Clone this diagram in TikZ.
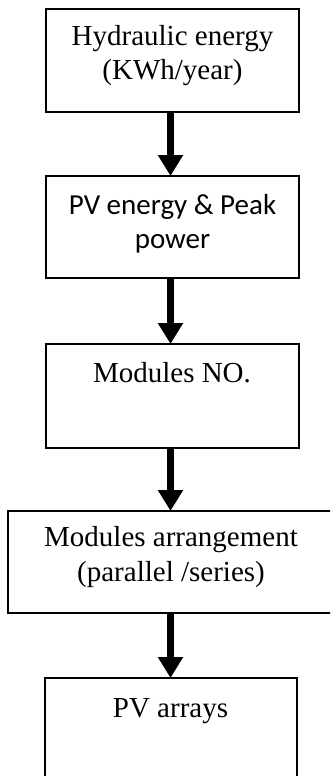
\documentclass[tikz,border=0pt]{standalone}
\usepackage{fontspec}
\setmainfont{Liberation Serif}
\newfontfamily\calib{Carlito}
\usetikzlibrary{arrows.meta}
\begin{document}
\begin{tikzpicture}[x=1pt,y=-1pt,
 box/.style={draw, line width=1.6pt, rectangle, inner sep=0pt, outer sep=0pt, anchor=north west},
 txt/.style={font=\fontsize{29}{35}\selectfont, align=center, inner sep=0pt, anchor=base},
 flow/.style={line width=7pt, -{Triangle[width=24pt,length=21pt]}}]
\useasboundingbox (0,0) rectangle (330,776);
\clip (0,0) rectangle (330,776);
\fill[white] (0,0) rectangle (330,776);
\node[box, minimum width=253pt, minimum height=103pt] (b1) at (46,9) {};
\node[box, minimum width=253pt, minimum height=102pt] (b2) at (46,176) {};
\node[box, minimum width=253pt, minimum height=104pt] (b3) at (46,344) {};
\node[box, minimum width=329pt, minimum height=102pt] (b4) at (8,511) {};
\node[box, minimum width=252pt, minimum height=120pt] (b5) at (45,678) {};
% base anchor of a multi-line node = baseline of its last line
\node[txt] (t1) at (172.5,80) {Hydraulic energy\\(KWh/year)};
\node[txt, font=\calib\fontsize{29}{34}\selectfont] (t2) at (172.5,248) {PV energy \& Peak\\power};
\node[txt] (t3) at (172,382) {Modules NO.};
\node[txt] (t4) at (171,581) {Modules arrangement\\(parallel /series)};
\node[txt] (t5) at (170.5,717) {PV arrays};
\draw[flow] ([xshift=-2pt]b1.south) -- ([xshift=-2pt]b2.north);
\draw[flow] ([xshift=-2pt]b2.south) -- ([xshift=-2pt]b3.north);
\draw[flow] ([xshift=-2pt]b3.south) -- ([xshift=-2pt]b4.north);
\draw[flow] ([xshift=-2pt]b4.south) -- ([xshift=-0.5pt]b5.north);
\end{tikzpicture}
\end{document}
